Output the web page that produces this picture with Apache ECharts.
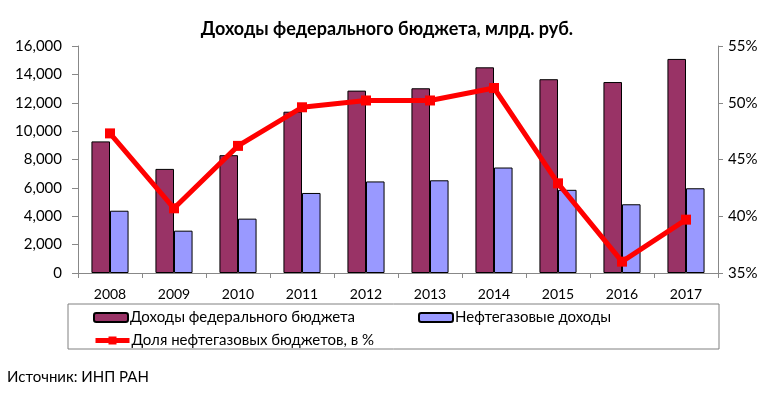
<!DOCTYPE html>
<html>
<head>
<meta charset="utf-8">
<script src="https://cdn.jsdelivr.net/npm/echarts@6/dist/echarts.min.js"></script>
<style>html,body{margin:0;padding:0;background:#fff}#c{width:774px;height:399px}</style>
</head>
<body>
<div id="c"></div>
<script>
var years = ['2008','2009','2010','2011','2012','2013','2014','2015','2016','2017'];
var federalRevenue = [9276, 7338, 8305, 11368, 12855, 13020, 14497, 13659, 13460, 15089];
var oilGasRevenue = [4389, 2984, 3831, 5642, 6453, 6534, 7434, 5863, 4844, 5972];
var oilGasShare = [47.3, 40.7, 46.2, 49.6, 50.2, 50.2, 51.3, 42.9, 36.0, 39.7];
var leftTicks = [0, 2000, 4000, 6000, 8000, 10000, 12000, 14000, 16000];
var rightTicks = [35, 40, 45, 50, 55];
var seriesNames = ['Доходы федерального бюджета', 'Нефтегазовые доходы', 'Доля нефтегазовых бюджетов, в %'];

var FONT = 'Lato';
var chart = echarts.init(document.getElementById('c'), null, {renderer: 'canvas'});
var legendText = {fontFamily: FONT, fontSize: 15, color: '#000', padding: [0, 0, 0, -3]};
chart.setOption({
  animation: false,
  backgroundColor: '#fff',
  title: {
    text: 'Доходы федерального бюджета, млрд. руб.',
    left: 'center', top: 15,
    textStyle: {fontFamily: FONT, fontSize: 18, fontWeight: 'bold', color: '#000'}
  },
  graphic: [
    {type: 'rect', shape: {x: 68, y: 304, width: 651, height: 45},
     style: {fill: 'none', stroke: '#808080', lineWidth: 1}, silent: true},
    {type: 'text', left: 7, top: 370,
     style: {text: 'Источник: ИНП РАН', fontFamily: FONT, fontSize: 15, fill: '#000'}}
  ],
  legend: [
    {data: [seriesNames[0]], left: 93, top: 310, itemWidth: 34, itemHeight: 9, itemGap: 0, textStyle: legendText, padding: 0},
    {data: [seriesNames[1]], left: 418, top: 310, itemWidth: 34, itemHeight: 9, itemGap: 0, textStyle: legendText, padding: 0},
    {data: [seriesNames[2]], left: 93, top: 333, itemWidth: 34, itemHeight: 10, itemGap: 0, textStyle: legendText, padding: 0,
     lineStyle: {width: 5}}
  ],
  grid: {left: 78, right: 56, top: 46, bottom: 126},
  xAxis: {
    type: 'category', data: years,
    axisLine: {lineStyle: {color: '#888', width: 1}},
    axisTick: {show: true, alignWithLabel: false, length: 5, lineStyle: {color: '#888'}},
    axisLabel: {fontFamily: FONT, fontSize: 14, color: '#000', margin: 14}
  },
  yAxis: [
    {
      type: 'value', min: 0, max: 16000, interval: 2000,
      axisLine: {show: true, lineStyle: {color: '#888'}},
      axisTick: {show: true, length: 6, lineStyle: {color: '#888'}},
      splitLine: {show: false},
      axisLabel: {fontFamily: FONT, fontSize: 15, color: '#000', margin: 16,
        formatter: function (v) { return leftTicks.indexOf(v) >= 0 ? v.toLocaleString('en-US') : ''; }}
    },
    {
      type: 'value', min: 35, max: 55, interval: 5, position: 'right',
      axisLine: {show: true, lineStyle: {color: '#888'}},
      axisTick: {show: true, length: 5, lineStyle: {color: '#888'}},
      splitLine: {show: false},
      axisLabel: {fontFamily: FONT, fontSize: 15, color: '#000', margin: 10,
        formatter: function (v) { return rightTicks.indexOf(v) >= 0 ? v + '%' : ''; }}
    }
  ],
  series: [
    {name: seriesNames[0], type: 'bar', data: federalRevenue, barGap: '0%', barCategoryGap: '42%',
     itemStyle: {color: '#993366', borderColor: '#000', borderWidth: 1}},
    {name: seriesNames[1], type: 'bar', data: oilGasRevenue,
     itemStyle: {color: '#9999FF', borderColor: '#000', borderWidth: 1}},
    {name: seriesNames[2], type: 'line', yAxisIndex: 1, data: oilGasShare,
     symbol: 'rect', symbolSize: 10, lineStyle: {color: '#FF0000', width: 5},
     itemStyle: {color: '#FF0000'}, z: 5}
  ]
});
</script>
</body>
</html>
